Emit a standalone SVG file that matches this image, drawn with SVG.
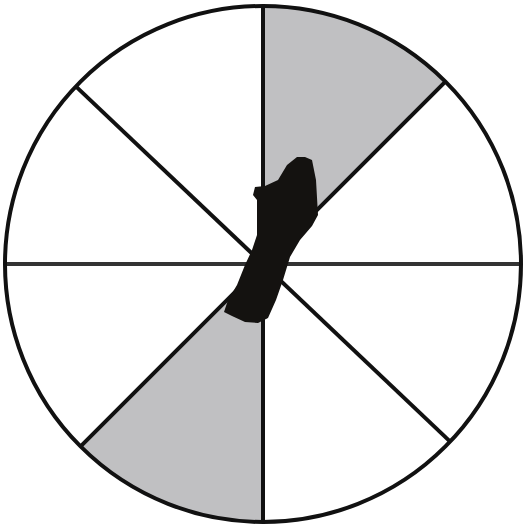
<svg xmlns="http://www.w3.org/2000/svg" width="525" height="528" viewBox="0 0 525 528">
<style>
.ln{stroke:#111;stroke-width:4;fill:none;stroke-linecap:butt}
.sh{fill:#c0c0c2;stroke:none}
</style>
<rect width="525" height="528" fill="#ffffff"/>
<g id="sectors">
<path class="sh" d="M263,264 L263,6 A258,258 0 0 1 445.4,81.6 Z"/>
<path class="sh" d="M263,264 L263,522 A258,258 0 0 1 80.6,446.4 Z"/>
</g>
<g id="spokes">
<line class="ln" x1="263" y1="6" x2="263" y2="522"/>
<line class="ln" x1="5" y1="264" x2="521" y2="264" style="stroke:#333"/>
<line class="ln" x1="75.8" y1="86.4" x2="450.2" y2="441.6"/>
<line class="ln" x1="445.4" y1="81.6" x2="80.6" y2="446.4"/>
</g>
<g id="rim">
<circle class="ln" cx="263" cy="264" r="258"/>
</g>
<g id="pointer">
<polygon fill="#141210" points="305,157 312,160 316,180 318,215 312,226 300,240 290,257 283,280 276,300 268,318 258,323 245,322 232,316 224,312 228,300 237,285 245,265 252,250 257,235 257,200 253,195 255,187 265,186 278,180 287,165 297,157"/>
</g>
</svg>
